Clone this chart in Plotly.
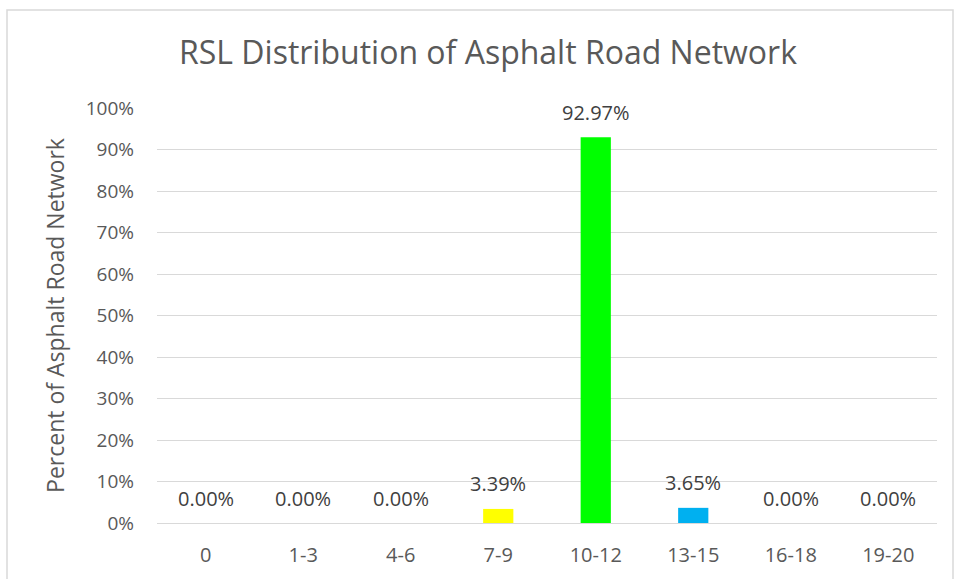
import plotly.graph_objects as go

categories = ["0", "1-3", "4-6", "7-9", "10-12", "13-15", "16-18", "19-20"]
percent_values = [0.00, 0.00, 0.00, 3.39, 92.97, 3.65, 0.00, 0.00]
bar_colors = ["#C00000", "#FF0000", "#FFC000", "#FFFF00", "#00FF00", "#00B0F0", "#0070C0", "#7030A0"]
y_ticks = [0, 0.1, 0.2, 0.3, 0.4, 0.5, 0.6, 0.7, 0.8, 0.9, 1.0]

W, H = 954, 579
L, R, T, B = 157, 17, 108, 56
pw, ph = W - L - R, H - T - B

FONT = "Open Sans"

fig = go.Figure(
    go.Bar(
        x=categories,
        y=[v / 100 for v in percent_values],
        marker=dict(color=bar_colors, line=dict(width=0)),
        width=0.31,
        hoverinfo="skip",
    )
)

annotations = [
    dict(
        x=c,
        y=v / 100,
        xref="x",
        yref="y",
        text=f"{v:.2f}%",
        showarrow=False,
        xanchor="center",
        yanchor="middle",
        yshift=25,
        font=dict(family=FONT, size=20, color="#404040"),
    )
    for c, v in zip(categories, percent_values)
]

fig.update_layout(
    width=W,
    height=H,
    margin=dict(l=L, r=R, t=T, b=B),
    paper_bgcolor="white",
    plot_bgcolor="white",
    showlegend=False,
    annotations=annotations,
    title=dict(
        text="RSL Distribution of Asphalt Road Network",
        x=488 / W,
        xanchor="center",
        xref="container",
        y=1 - 53 / H,
        yanchor="middle",
        yref="container",
        font=dict(family=FONT, size=32, color="#595959"),
    ),
    xaxis=dict(
        type="category",
        showgrid=False,
        showline=False,
        ticks="",
        tickfont=dict(family=FONT, size=20, color="#595959"),
        ticklabelstandoff=18,
    ),
    yaxis=dict(
        range=[0, 1.0],
        tickvals=y_ticks,
        tickformat=".0%",
        showgrid=True,
        gridcolor="#D9D9D9",
        gridwidth=1,
        zeroline=True,
        zerolinecolor="#D9D9D9",
        zerolinewidth=1,
        showline=False,
        ticks="",
        tickfont=dict(family=FONT, size=19, color="#595959"),
        ticklabelstandoff=22,
        title=dict(
            text="Percent of Asphalt Road Network",
            font=dict(family=FONT, size=23, color="#595959"),
            standoff=14,
        ),
    ),
    shapes=[
        dict(
            type="rect",
            xref="paper",
            yref="paper",
            x0=(7 - L) / pw,
            x1=(953 - L) / pw,
            y0=(H - B - 600) / ph,
            y1=(H - B - 10) / ph,
            line=dict(color="#D9D9D9", width=1.5),
            fillcolor="rgba(0,0,0,0)",
            layer="below",
        )
    ],
)

fig.write_html(
    "out.html",
    config={"displayModeBar": False},
    post_script="document.body.style.margin='0';",
)
